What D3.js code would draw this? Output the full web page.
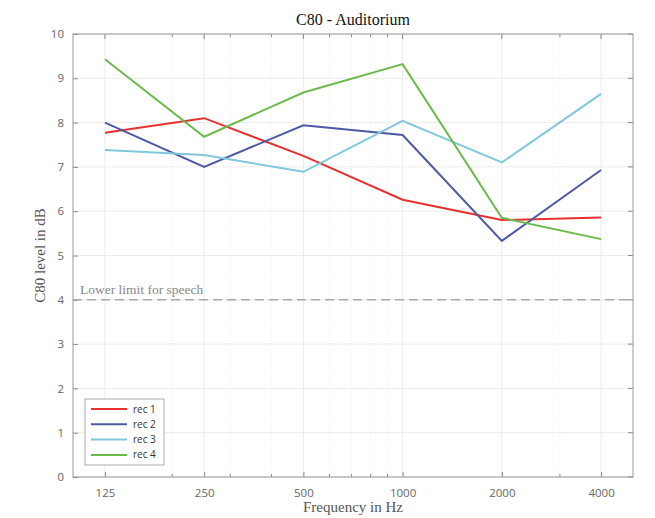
<!DOCTYPE html>
<html><head><meta charset="utf-8">
<script src="https://cdn.jsdelivr.net/npm/d3@7"></script>
<style>body{margin:0;background:#fff;}svg{display:block;}</style>
</head><body>
<svg id="c" width="655" height="518"></svg>
<script>
const frequencies = [125, 250, 500, 1000, 2000, 4000];
const seriesNames = ["rec 1", "rec 2", "rec 3", "rec 4"];
const rec1 = [7.77, 8.10, 7.25, 6.26, 5.80, 5.86];
const rec2 = [8.00, 7.00, 7.94, 7.72, 5.33, 6.93];
const rec3 = [7.38, 7.27, 6.89, 8.04, 7.10, 8.65];
const rec4 = [9.43, 7.68, 8.68, 9.32, 5.85, 5.37];
const seriesColors = ["#e8312f", "#4d5aa3", "#80c8dc", "#6cba4c"];
const yTicks = [0,1,2,3,4,5,6,7,8,9,10];
const minorX = [200,300,400,600,700,800,900,3000];
const speechLimit = 4;

const svg = d3.select("#c");
const L = 73, R = 633, T = 34, B = 477;
const x = d3.scaleLog().domain([100, 5000]).range([L, R]);
const y = d3.scaleLinear().domain([0, 10]).range([B, T]);

// grid
const g = svg.append("g");
g.selectAll(".hg").data(yTicks).join("line")
  .attr("x1", L).attr("x2", R).attr("y1", d => y(d)).attr("y2", d => y(d))
  .attr("stroke", "#ececec").attr("stroke-width", 1);
g.selectAll(".vg").data(frequencies).join("line")
  .attr("x1", d => x(d)).attr("x2", d => x(d)).attr("y1", T).attr("y2", B)
  .attr("stroke", "#ececec").attr("stroke-width", 1);
g.selectAll(".mg").data(minorX).join("line")
  .attr("x1", d => x(d)).attr("x2", d => x(d)).attr("y1", T).attr("y2", B)
  .attr("stroke", "#eeeeee").attr("stroke-width", 1).attr("stroke-dasharray", "1,2");

// axes
const axColor = "#666";
const xAxis = d3.axisBottom(x).tickValues(frequencies).tickFormat(d3.format("d")).tickSize(-5).tickPadding(12);
const gx = svg.append("g").attr("transform", `translate(0,${B})`).call(xAxis);
const yAxis = d3.axisLeft(y).tickValues(yTicks).tickSize(-5).tickPadding(9);
const gy = svg.append("g").attr("transform", `translate(${L},0)`).call(yAxis);
[gx, gy].forEach(a => {
  a.select(".domain").remove();
  a.selectAll(".tick line").attr("stroke", "#888");
  a.selectAll("text").attr("fill", axColor).attr("font-family", "Open Sans, sans-serif").attr("font-size", 11.5);
});
// minor ticks bottom/top
svg.append("g").selectAll("line").data(minorX).join("line")
  .attr("x1", d => x(d)).attr("x2", d => x(d)).attr("y1", B).attr("y2", B - 3)
  .attr("stroke", "#888");
svg.append("g").selectAll("line").data(minorX.concat(frequencies)).join("line")
  .attr("x1", d => x(d)).attr("x2", d => x(d)).attr("y1", T).attr("y2", d => T + (frequencies.includes(d) ? 5 : 3))
  .attr("stroke", "#888");
svg.append("g").selectAll("line").data(yTicks).join("line")
  .attr("x1", R).attr("x2", R - 5).attr("y1", d => y(d)).attr("y2", d => y(d))
  .attr("stroke", "#888");

// box
svg.append("rect").attr("x", L).attr("y", T).attr("width", R - L).attr("height", B - T)
  .attr("fill", "none").attr("stroke", "#9a9a9a").attr("stroke-width", 1);

// speech limit
svg.append("line").attr("x1", L).attr("x2", R).attr("y1", y(speechLimit)).attr("y2", y(speechLimit))
  .attr("stroke", "#aaa").attr("stroke-width", 1.5).attr("stroke-dasharray", "9,5");
svg.append("text").attr("x", 80).attr("y", y(speechLimit) - 6)
  .attr("font-family", "Liberation Serif, serif").attr("font-size", 13.5).attr("fill", "#888")
  .text("Lower limit for speech");

// lines
const allSeries = [rec1, rec2, rec3, rec4];
const line = d3.line().x((d, i) => x(frequencies[i])).y(d => y(d));
svg.append("g").selectAll("path").data(allSeries).join("path")
  .attr("d", d => line(d)).attr("fill", "none")
  .attr("stroke", (d, i) => seriesColors[i]).attr("stroke-width", 2);

// title & labels
svg.append("text").attr("x", (L + R) / 2).attr("y", 25).attr("text-anchor", "middle")
  .attr("font-family", "Liberation Serif, serif").attr("font-size", 16).attr("fill", "#111")
  .text("C80 - Auditorium");
svg.append("text").attr("x", (L + R) / 2).attr("y", 512).attr("text-anchor", "middle")
  .attr("font-family", "Liberation Serif, serif").attr("font-size", 15).attr("fill", "#555")
  .text("Frequency in Hz");
svg.append("text").attr("transform", `translate(45,${(T + B) / 2}) rotate(-90)`).attr("text-anchor", "middle")
  .attr("font-family", "Liberation Serif, serif").attr("font-size", 15).attr("fill", "#555")
  .text("C80 level in dB");

// legend
const lg = svg.append("g").attr("transform", "translate(85,399)");
lg.append("rect").attr("width", 79).attr("height", 66).attr("fill", "#fff").attr("stroke", "#aaa");
seriesNames.forEach((n, i) => {
  const yy = 10 + i * 15.3;
  lg.append("line").attr("x1", 6).attr("x2", 42).attr("y1", yy).attr("y2", yy)
    .attr("stroke", seriesColors[i]).attr("stroke-width", 2);
  lg.append("text").attr("x", 48).attr("y", yy + 3.5).attr("font-family", "Open Sans, sans-serif")
    .attr("font-size", 10).attr("fill", "#333").text(n);
});
</script>
</body></html>
